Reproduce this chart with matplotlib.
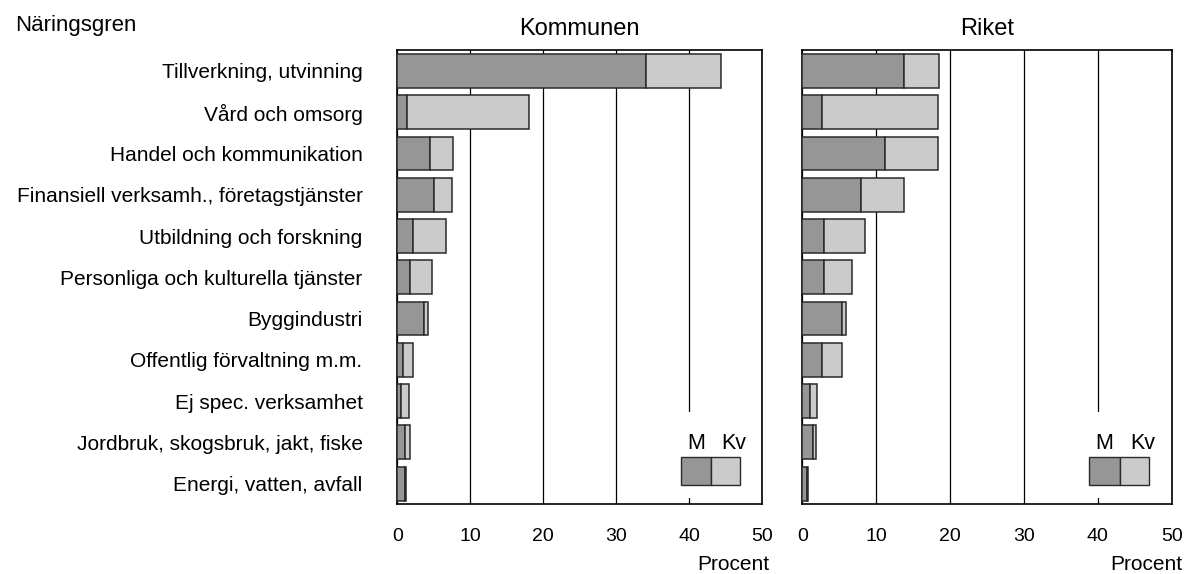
import matplotlib
matplotlib.use('agg')
import matplotlib.pyplot as plt
import matplotlib.transforms as mtransforms
from matplotlib.patches import Rectangle

plt.rcParams['font.family'] = ['Liberation Sans', 'DejaVu Sans']
plt.rcParams['font.size'] = 14

categories = [
    'Tillverkning, utvinning',
    'Vård och omsorg',
    'Handel och kommunikation',
    'Finansiell verksamh., företagstjänster',
    'Utbildning och forskning',
    'Personliga och kulturella tjänster',
    'Byggindustri',
    'Offentlig förvaltning m.m.',
    'Ej spec. verksamhet',
    'Jordbruk, skogsbruk, jakt, fiske',
    'Energi, vatten, avfall',
]

# percent of employed, men (M) and women (Kv)
kommun_m = [34.1, 1.3, 4.5, 5.0, 2.2, 1.8, 3.7, 0.8, 0.55, 1.05, 1.0]
kommun_kv = [10.3, 16.7, 3.1, 2.5, 4.5, 2.9, 0.45, 1.4, 1.05, 0.75, 0.15]
riket_m = [13.7, 2.6, 11.2, 7.9, 2.9, 3.0, 5.4, 2.6, 1.1, 1.5, 0.7]
riket_kv = [4.8, 15.8, 7.1, 5.9, 5.6, 3.7, 0.45, 2.8, 0.85, 0.35, 0.1]

dark = '#969696'
light = '#cbcbcb'
edge = '#2a2a2a'

fig = plt.figure(figsize=(11.84, 5.74), dpi=100)
W, H = 1184, 574
ax1 = fig.add_axes([397.3 / W, 1 - 504.3 / H, 365 / W, 454 / H])
ax2 = fig.add_axes([802.3 / W, 1 - 504.3 / H, 369.4 / W, 454 / H])

pos = list(range(len(categories)))

for ax, m, kv, title in [(ax1, kommun_m, kommun_kv, 'Kommunen'),
                         (ax2, riket_m, riket_kv, 'Riket')]:
    ax.barh(pos, m, height=0.82, color=dark, edgecolor=edge, linewidth=1.1, zorder=3)
    ax.barh(pos, kv, left=m, height=0.82, color=light, edgecolor=edge, linewidth=1.1, zorder=3)
    ax.set_xlim(0, 50)
    ax.set_ylim(len(categories) - 0.5, -0.5)
    ax.set_xticks([0, 10, 20, 30, 40, 50])
    ax.set_axisbelow(True)
    ax.grid(axis='x', color='black', linewidth=0.9)
    ax.tick_params(axis='x', length=0, pad=17)
    ax.tick_params(axis='y', length=0, pad=25, labelsize=15)
    for s in ax.spines.values():
        s.set_linewidth(1.2)
    ax.set_title(title, pad=11, fontsize=17)

    # legend drawn inside the plot, blanking the grid behind it
    tr = mtransforms.blended_transform_factory(ax.transData, ax.transAxes)
    ax.add_patch(Rectangle((37.0, 0.014), 11.5, 0.19, transform=tr,
                           facecolor='white', edgecolor='none', zorder=1))
    ax.add_patch(Rectangle((38.8, 0.042), 4.2, 0.062, transform=tr,
                           facecolor=dark, edgecolor=edge, linewidth=1, zorder=3))
    ax.add_patch(Rectangle((43.0, 0.042), 3.95, 0.062, transform=tr,
                           facecolor=light, edgecolor=edge, linewidth=1, zorder=3))
    ax.text(40.9, 0.133, 'M', transform=tr, ha='center', va='center', fontsize=15.5)
    ax.text(46.1, 0.133, 'Kv', transform=tr, ha='center', va='center', fontsize=15.5)

ax1.set_yticks(pos)
ax1.set_yticklabels(categories)
ax2.set_yticks(pos)
ax2.set_yticklabels([])

flip = mtransforms.Affine2D().scale(1, -1).translate(0, H)
fig.text(769, 565, 'Procent', transform=flip, ha='right', va='center', fontsize=15)
fig.text(1182, 565, 'Procent', transform=flip, ha='right', va='center', fontsize=15)

fig.text(15 / W, 1 - 25 / H, 'Näringsgren', ha='left', va='center', fontsize=16)

fig.savefig('out.png', dpi=100)
